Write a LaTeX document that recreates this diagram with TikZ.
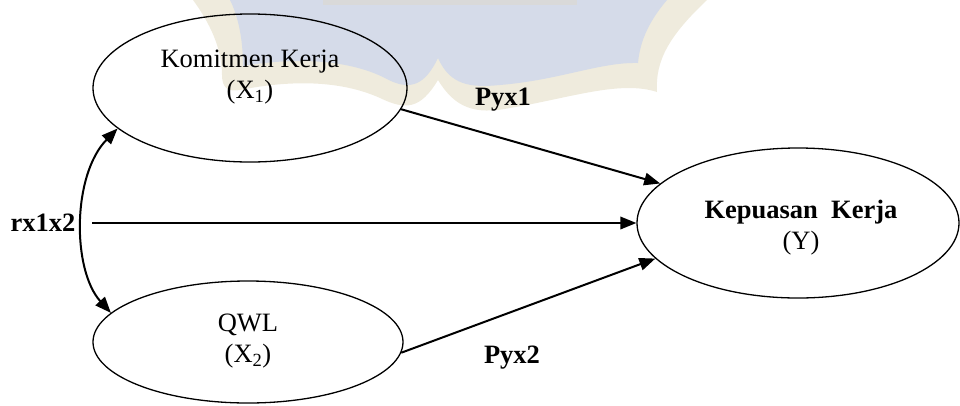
\documentclass[tikz,border=0pt]{standalone}
\usepackage{fontspec}
\setmainfont{Liberation Serif}
\usetikzlibrary{shapes.geometric,arrows.meta}

\definecolor{crestblue}{RGB}{213,219,233}
\definecolor{crestrim}{RGB}{239,235,221}
\definecolor{crestbar}{RGB}{217,217,217}

\begin{document}
\begin{tikzpicture}[x=1pt,y=-1pt,
  latent/.style={draw, ellipse, line width=1.3pt, inner sep=0pt},
  caption/.style={align=center, inner sep=0pt, font=\fontsize{26.5}{31}\selectfont},
  coef/.style={inner sep=0pt, font=\fontsize{26.5}{31}\selectfont\bfseries},
  link/.style={line width=2pt, -{Triangle[length=16pt,width=12.5pt]}},
  corr/.style={line width=2pt, {Triangle[length=16pt,width=12.5pt]}-{Triangle[length=16pt,width=12.5pt]}}]
\useasboundingbox (0,0) rectangle (960,405);

% faint crest in the background
\fill[crestrim] (193,0)
  .. controls (215,30) and (222,55) .. (222,75)
  .. controls (222,88) and (228,92) .. (240,90)
  .. controls (290,80) and (340,80) .. (380,98)
  .. controls (405,110) and (420,110) .. (438,80)
  .. controls (455,108) and (475,115) .. (510,108)
  .. controls (570,98) and (620,80) .. (657,92)
  .. controls (655,60) and (670,35) .. (707,0)
  -- cycle;
\fill[crestblue] (230,0)
  .. controls (240,20) and (243,45) .. (243,66)
  .. controls (290,58) and (345,58) .. (385,78)
  .. controls (410,92) and (425,85) .. (438,58)
  .. controls (450,85) and (470,88) .. (500,85)
  .. controls (560,80) and (600,62) .. (638,63)
  .. controls (640,40) and (650,20) .. (667,0)
  -- cycle;
\fill[crestbar] (323,0) rectangle (577,5);

% latent variables
\node[latent, minimum width=314pt, minimum height=148pt] (x1) at (250,88) {};
\node[latent, minimum width=310pt, minimum height=122pt] (x2) at (248,342) {};
\node[latent, minimum width=322pt, minimum height=150pt] (y) at (798,223) {};

\node[caption] (x1t) at (250,77) {Komitmen Kerja\\(X\textsubscript{1})};
\node[caption] (x2t) at (248,341) {QWL\\(X\textsubscript{2})};
\node[caption] (yt) at (801,228) {\textbf{Kepuasan\ \ Kerja}\\(Y)};

% path coefficients
\node[coef] (p1) at (503,100) {Pyx1};
\node[coef] (p2) at (512,358) {Pyx2};
\node[coef] (r12) at (43,223) {rx1x2};

% paths
\coordinate (mid) at (92,223);
\draw[link] (x1.-8) -- (y.164);
\draw[link] (mid) -- (y.west);
\draw[link] (x2.-4) -- (y.-166);
\draw[corr] (x1.-163) .. controls (72,175) and (72,270) .. (x2.168);
\end{tikzpicture}
\end{document}
